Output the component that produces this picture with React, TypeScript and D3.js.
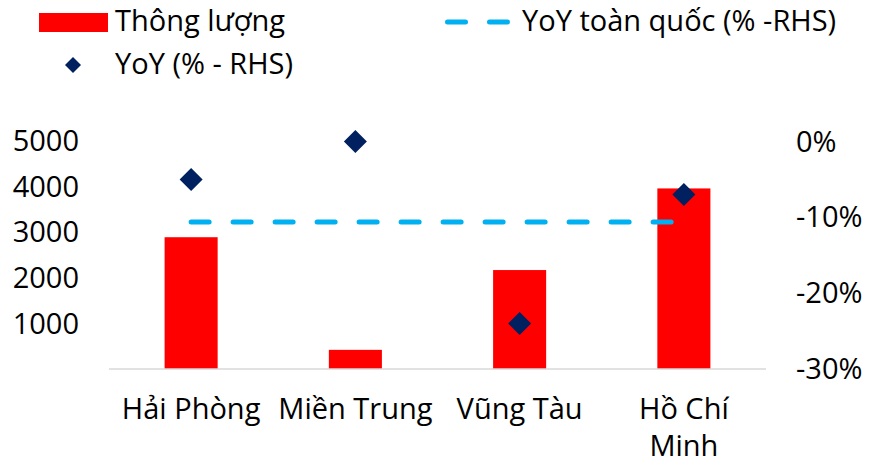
import React from "react";
import * as d3 from "d3";

// Port throughput by region with YoY change on the right-hand axis
const categories = ["Hải Phòng", "Miền Trung", "Vũng Tàu", "Hồ Chí Minh"];
const throughput = [2890, 420, 2170, 3960];
const yoyPct = [-5, 0, -24, -7];
const nationalYoYPct = -10.6;
const leftTicks = [1000, 2000, 3000, 4000, 5000];
const rightTicks = [0, -10, -20, -30];

const legendBar = "Thông lượng";
const legendLine = "YoY toàn quốc (% -RHS)";
const legendPoint = "YoY (% - RHS)";

const W = 869;
const H = 466;
const FONT = "'Open Sans', 'Noto Sans', sans-serif";
const FS = 29;

const RED = "#FF0000";
const NAVY = "#002060";
const CYAN = "#00B0F0";

// Greedy wrap by character count, like a spreadsheet category axis
function wrap(label: string, maxChars: number): string[] {
  const words = label.split(" ");
  const lines: string[] = [];
  let cur = "";
  for (const w of words) {
    const next = cur ? cur + " " + w : w;
    if (next.length > maxChars && cur) {
      lines.push(cur);
      cur = w;
    } else cur = next;
  }
  if (cur) lines.push(cur);
  return lines;
}

export default function App() {
  const x = d3
    .scaleBand<string>()
    .domain(categories)
    .range([109, 766])
    .paddingInner(0.677)
    .paddingOuter(0.3385);
  const yL = d3.scaleLinear().domain([0, 5000]).range([369, 141]);
  const yR = d3.scaleLinear().domain([-30, 0]).range([369, 141.5]);

  const diamond = d3.symbol().type(d3.symbolDiamond2);
  const bigDiamond = diamond.size((26 * 26) / 2)() as string;
  const smallDiamond = diamond.size((18 * 18) / 2)() as string;

  const cx = (c: string) => (x(c) as number) + x.bandwidth() / 2;
  const lineX0 = cx(categories[0]);
  const lineX1 = cx(categories[categories.length - 1]);

  return (
    <div style={{ position: "fixed", left: 0, top: 0 }}>
      <svg width={W} height={H} style={{ display: "block", background: "#fff" }} fontFamily={FONT}>
        {/* legend */}
        <rect x={39} y={13} width={69} height={19} fill={RED} />
        <text x={115} y={31} fontSize={FS} fill="#000">{legendBar}</text>
        <line x1={447.5} x2={508.5} y1={22} y2={22} stroke={CYAN} strokeWidth={5}
          strokeLinecap="round" strokeDasharray="18 24" />
        <text x={522} y={31} fontSize={FS} fill="#000">{legendLine}</text>
        <path d={smallDiamond} transform="translate(73,65)" fill={NAVY} />
        <text x={115} y={74} fontSize={FS} fill="#000">{legendPoint}</text>

        {/* left axis labels */}
        {leftTicks.map((t) => (
          <text key={t} x={79} y={yL(t)} dy="0.35em" textAnchor="end" fontSize={FS} fill="#000">
            {t}
          </text>
        ))}
        {/* right axis labels */}
        {rightTicks.map((t) => (
          <text key={t} x={796} y={yR(t)} dy="0.35em" textAnchor="start" fontSize={FS} fill="#000">
            {t}%
          </text>
        ))}

        {/* bars */}
        {categories.map((c, i) => (
          <rect key={c} x={x(c)} y={yL(throughput[i])} width={x.bandwidth()}
            height={yL(0) - yL(throughput[i])} fill={RED} />
        ))}

        {/* baseline */}
        <line x1={109} x2={766} y1={yL(0)} y2={yL(0)} stroke="#D9D9D9" strokeWidth={1.5} />

        {/* national YoY */}
        <line x1={lineX0} x2={lineX1} y1={yR(nationalYoYPct)} y2={yR(nationalYoYPct)}
          stroke={CYAN} strokeWidth={5} strokeLinecap="round" strokeDasharray="18 24" />

        {/* regional YoY */}
        {categories.map((c, i) => (
          <path key={c} d={bigDiamond} transform={`translate(${cx(c)},${yR(yoyPct[i])})`} fill={NAVY} />
        ))}

        {/* category labels */}
        {categories.map((c) => (
          <text key={c} x={cx(c)} y={419} textAnchor="middle" fontSize={FS} fill="#000">
            {wrap(c, 10).map((ln, j) => (
              <tspan key={j} x={cx(c)} dy={j === 0 ? 0 : 37}>{ln}</tspan>
            ))}
          </text>
        ))}
      </svg>
    </div>
  );
}
